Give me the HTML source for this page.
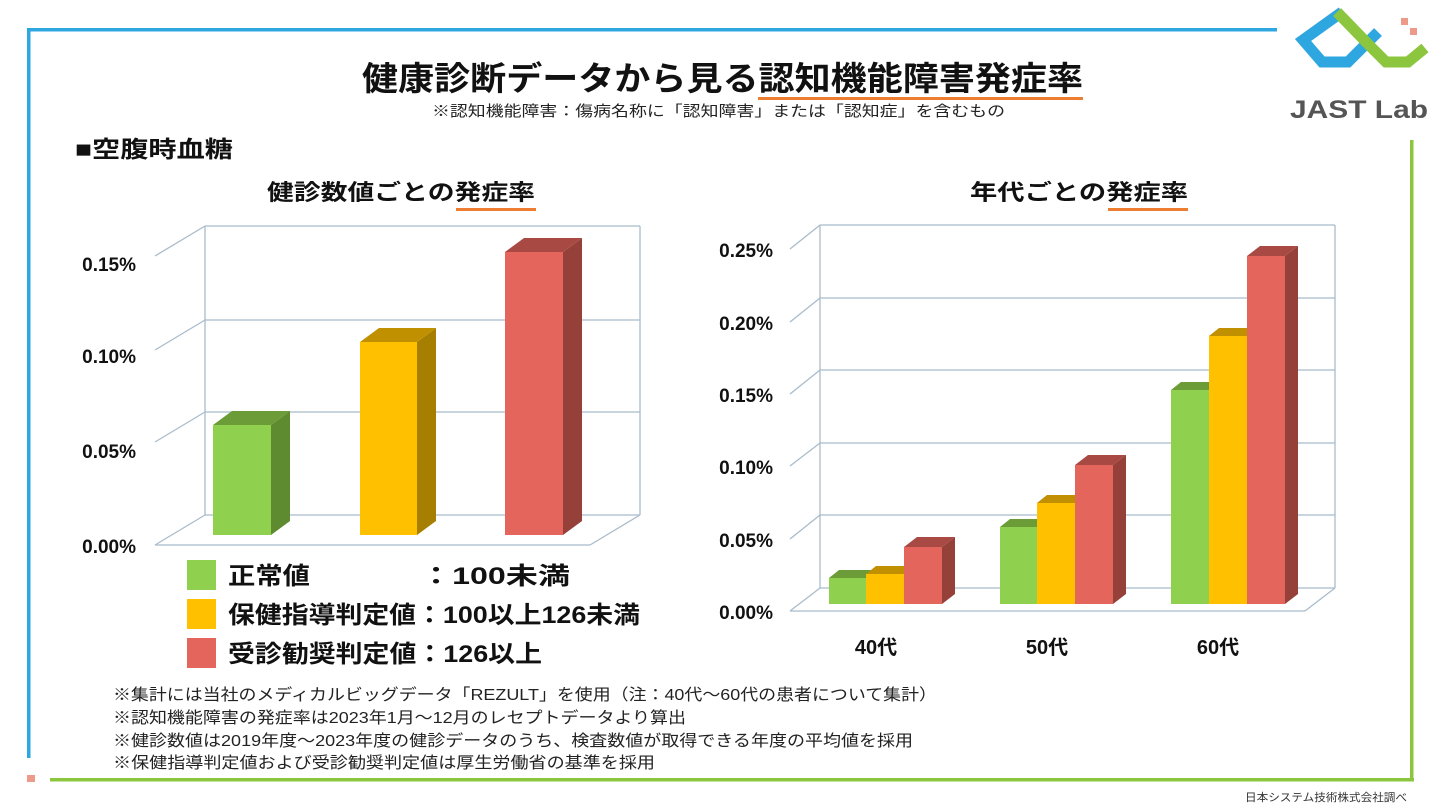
<!DOCTYPE html>
<html><head><meta charset="utf-8"><style>
body{margin:0;width:1440px;height:810px;background:#fff;overflow:hidden}
svg{display:block}
text{font-family:"Liberation Sans","Noto Sans CJK JP",sans-serif}
</style></head><body>
<svg width="1440" height="810" viewBox="0 0 1440 810">
<rect x="27" y="28" width="1250" height="3.5" fill="#2ea7e0"/>
<rect x="27" y="28" width="3.5" height="730" fill="#2ea7e0"/>
<rect x="27" y="775" width="8" height="7" fill="#ee9a8a"/>
<rect x="50" y="778" width="1364" height="3.5" fill="#8cc63f"/>
<rect x="1410" y="140" width="3.5" height="641" fill="#8cc63f"/>
<text x="1245" y="801" font-size="11" textLength="162" lengthAdjust="spacingAndGlyphs" fill="#333">日本システム技術株式会社調べ</text>
<polyline points="1342,12 1303,40 1322,62 1348,62 1378,32" fill="none" stroke="#2ea7e0" stroke-width="11"/>
<polyline points="1337,12 1368,44 1386,62 1408,62 1425,48" fill="none" stroke="#8cc63f" stroke-width="11"/>
<rect x="1401" y="18" width="7" height="7" fill="#ee9a8a"/>
<rect x="1410" y="28" width="7" height="7" fill="#ee9a8a"/>
<text x="1290" y="118" font-size="25" font-weight="bold" textLength="138" lengthAdjust="spacingAndGlyphs" fill="#555" font-family="Liberation Mono,monospace">JAST Lab</text>
<text x="362" y="90" font-size="33" font-weight="bold" textLength="721" lengthAdjust="spacingAndGlyphs" fill="#111">健康診断データから見る認知機能障害発症率</text>
<rect x="758" y="97" width="325" height="3" fill="#ed7d31"/>
<text x="432" y="116" font-size="15" textLength="573" lengthAdjust="spacingAndGlyphs" fill="#222">※認知機能障害：傷病名称に「認知障害」または「認知症」を含むもの</text>
<text x="75" y="157" font-size="23" font-weight="bold" textLength="158" lengthAdjust="spacingAndGlyphs" fill="#111">■空腹時血糖</text>
<text x="267" y="200" font-size="22" font-weight="bold" textLength="268" lengthAdjust="spacingAndGlyphs" fill="#111">健診数値ごとの発症率</text>
<rect x="456" y="208" width="80" height="3" fill="#ed7d31"/>
<text x="970" y="200" font-size="22" font-weight="bold" textLength="218" lengthAdjust="spacingAndGlyphs" fill="#111">年代ごとの発症率</text>
<rect x="1108" y="208" width="80" height="3" fill="#ed7d31"/>

<g stroke="#a9bccb" stroke-width="1.3" fill="none">
<line x1="205" y1="226" x2="205" y2="515"/>
<line x1="640" y1="226" x2="640" y2="515"/>
<line x1="205" y1="226" x2="640" y2="226"/>
<line x1="205" y1="320" x2="640" y2="320"/>
<line x1="205" y1="412" x2="640" y2="412"/>
<line x1="205" y1="515" x2="640" y2="515"/>
<line x1="205" y1="226" x2="155" y2="256"/>
<line x1="205" y1="320" x2="155" y2="350"/>
<line x1="205" y1="412" x2="155" y2="442"/>
<line x1="205" y1="515" x2="155" y2="545"/>
<line x1="640" y1="515" x2="590" y2="545"/>
<line x1="155" y1="545" x2="590" y2="545"/>
</g>
<g font-size="19" font-weight="bold" text-anchor="end" fill="#111">
<text x="136" y="271">0.15%</text><text x="136" y="363">0.10%</text><text x="136" y="458">0.05%</text><text x="136" y="553">0.00%</text>
</g>
<g>
<polygon points="271,425 290,411 290,521 271,535" fill="#5e8a30"/><polygon points="213,425 232,411 290,411 271,425" fill="#6c9c37"/><rect x="213" y="425" width="58" height="110" fill="#8fd14f"/>
<polygon points="417,342 436,328 436,521 417,535" fill="#a67f00"/><polygon points="360,342 379,328 436,328 417,342" fill="#c09000"/><rect x="360" y="342" width="57" height="193" fill="#ffc000"/>
<polygon points="563,252 582,238 582,521 563,535" fill="#96403a"/><polygon points="505,252 524,238 582,238 563,252" fill="#a84a43"/><rect x="505" y="252" width="58" height="283" fill="#e3655b"/>
</g>
<rect x="187" y="560" width="29" height="30" fill="#8fd14f"/>
<rect x="187" y="599" width="29" height="30" fill="#ffc000"/>
<rect x="187" y="638" width="29" height="30" fill="#e3655b"/>
<g font-size="24" font-weight="bold" fill="#111">
<text x="228" y="584" textLength="82" lengthAdjust="spacingAndGlyphs">正常値</text><text x="420" y="584" textLength="150" lengthAdjust="spacingAndGlyphs">：100未満</text>
<text x="228" y="623" textLength="412" lengthAdjust="spacingAndGlyphs">保健指導判定値：100以上126未満</text>
<text x="228" y="662" textLength="314" lengthAdjust="spacingAndGlyphs">受診勧奨判定値：126以上</text>
</g>

<g stroke="#a9bccb" stroke-width="1.3" fill="none">
<line x1="820" y1="225" x2="820" y2="588"/>
<line x1="1335" y1="225" x2="1335" y2="588"/>
<line x1="820" y1="225" x2="1335" y2="225"/>
<line x1="820" y1="298" x2="1335" y2="298"/>
<line x1="820" y1="370" x2="1335" y2="370"/>
<line x1="820" y1="443" x2="1335" y2="443"/>
<line x1="820" y1="515" x2="1335" y2="515"/>
<line x1="820" y1="588" x2="1335" y2="588"/>
<line x1="820" y1="225" x2="790" y2="249"/>
<line x1="820" y1="298" x2="790" y2="322"/>
<line x1="820" y1="370" x2="790" y2="394"/>
<line x1="820" y1="443" x2="790" y2="466"/>
<line x1="820" y1="515" x2="790" y2="539"/>
<line x1="820" y1="588" x2="790" y2="611"/>
<line x1="1335" y1="588" x2="1305" y2="611"/>
<line x1="790" y1="611" x2="1305" y2="611"/>
</g>
<g font-size="19" font-weight="bold" text-anchor="end" fill="#111">
<text x="773" y="257">0.25%</text><text x="773" y="330">0.20%</text><text x="773" y="402">0.15%</text><text x="773" y="474">0.10%</text><text x="773" y="547">0.05%</text><text x="773" y="619">0.00%</text>
</g>
<g>
<polygon points="829,578 839,570 876,570 866,578" fill="#6c9c37"/><rect x="829" y="578" width="37" height="26" fill="#8fd14f"/>
<polygon points="866,574 876,566 914,566 904,574" fill="#c09000"/><rect x="866" y="574" width="38" height="30" fill="#ffc000"/>
<polygon points="942,547 955,537 955,594 942,604" fill="#96403a"/><polygon points="904,547 917,537 955,537 942,547" fill="#a84a43"/><rect x="904" y="547" width="38" height="57" fill="#e3655b"/>
<polygon points="1000,527 1010,519 1047,519 1037,527" fill="#6c9c37"/><rect x="1000" y="527" width="37" height="77" fill="#8fd14f"/>
<polygon points="1037,503 1047,495 1085,495 1075,503" fill="#c09000"/><rect x="1037" y="503" width="38" height="101" fill="#ffc000"/>
<polygon points="1113,465 1126,455 1126,594 1113,604" fill="#96403a"/><polygon points="1075,465 1088,455 1126,455 1113,465" fill="#a84a43"/><rect x="1075" y="465" width="38" height="139" fill="#e3655b"/>
<polygon points="1171,390 1181,382 1219,382 1209,390" fill="#6c9c37"/><rect x="1171" y="390" width="38" height="214" fill="#8fd14f"/>
<polygon points="1209,336 1219,328 1257,328 1247,336" fill="#c09000"/><rect x="1209" y="336" width="38" height="268" fill="#ffc000"/>
<polygon points="1285,256 1298,246 1298,594 1285,604" fill="#96403a"/><polygon points="1247,256 1260,246 1298,246 1285,256" fill="#a84a43"/><rect x="1247" y="256" width="38" height="348" fill="#e3655b"/>
</g>
<g font-size="20" font-weight="bold" text-anchor="middle" fill="#111">
<text x="876" y="654">40代</text><text x="1047" y="654">50代</text><text x="1218" y="654">60代</text>
</g>
<g font-size="16" fill="#222" lengthAdjust="spacingAndGlyphs">
<text x="113" y="700" textLength="824" lengthAdjust="spacingAndGlyphs">※集計には当社のメディカルビッグデータ「REZULT」を使用（注：40代〜60代の患者について集計）</text>
<text x="113" y="723" textLength="573" lengthAdjust="spacingAndGlyphs">※認知機能障害の発症率は2023年1月〜12月のレセプトデータより算出</text>
<text x="113" y="746" textLength="800" lengthAdjust="spacingAndGlyphs">※健診数値は2019年度〜2023年度の健診データのうち、検査数値が取得できる年度の平均値を採用</text>
<text x="113" y="768" textLength="542" lengthAdjust="spacingAndGlyphs">※保健指導判定値および受診勧奨判定値は厚生労働省の基準を採用</text>
</g>
</svg>
</body></html>
